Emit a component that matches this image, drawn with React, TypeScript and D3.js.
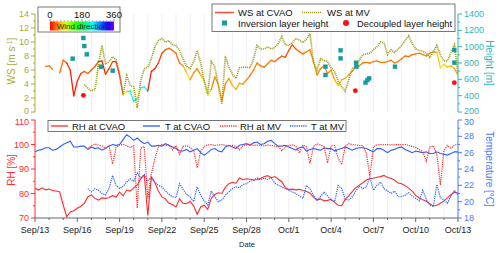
import React from 'react';
import * as d3 from 'd3';

// time axis: days since Sep 13, one value every 6 hours
const step = 0.25;
const tickDays = [0, 3, 6, 9, 12, 15, 18, 21, 24, 27, 30];
const tickLabels = ['Sep/13', 'Sep/16', 'Sep/19', 'Sep/22', 'Sep/25', 'Sep/28', 'Oct/1', 'Oct/4', 'Oct/7', 'Oct/10', 'Oct/13'];

const wsCvao = [
  null, null, null, 6.5, 6.6, 6.1, null, 5.6, 7.4, 7.0, 6.0, 2.3,
  4.4, 5.5, 5.8, 5.5, 6.0, 6.5, 7.2, 7.3, 5.4, 6.2, 7.2, 7.2,
  5.2, 2.5, 2.9, 3.0, 1.5, 2.0, 3.4, 3.6, 3.0, 5.8, 6.2, 7.0,
  8.4, 8.9, 9.1, 8.8, 8.4, 7.0, 6.6, 5.6, 4.6, 5.6, 6.2, 5.3,
  4.5, 2.4, 3.2, 5.0, 4.0, 1.6, 4.0, 4.8, 3.8, 3.2, 4.1, 4.0,
  4.6, 5.2, 6.0, 7.0, 6.6, 6.4, 6.9, 7.4, 7.2, 7.6, 8.0, 7.8,
  8.8, 9.6, 9.0, 8.6, 8.3, 8.6, 8.9, 7.2, 5.3, 6.2, 6.6, 5.5,
  6.0, 4.6, 3.8, 4.6, 4.8, 5.3, 5.8, 6.5, 6.6, 7.0, 7.1, 7.0,
  7.2, 7.3, 7.1, 7.1, 7.2, 7.4, 7.0, 7.2, 7.6, 8.0, 7.9, 8.2,
  8.3, 8.4, 8.2, 8.0, 8.4, 8.6, 8.5, 6.3, 6.8, 6.4, 6.6, 6.2,
  5.3,
];

const windDir = [
  35, 35, 35, 35, 38, 40, 40, 42, 35, 30, 12, 8,
  10, 12, 25, 30, 30, 28, 25, 12, 8, 15, 25, 15,
  8, 20, 75, 125, 230, 245, 70, 235, 240, 10, 8, 12,
  20, 25, 28, 30, 32, 35, 40, 55, 70, 45, 40, 45,
  60, 72, 70, 40, 45, 60, 40, 42, 55, 60, 55, 50,
  45, 40, 38, 38, 38, 38, 38, 38, 35, 32, 28, 25,
  25, 25, 28, 30, 32, 35, 38, 40, 45, 42, 40, 45,
  42, 50, 58, 60, 55, 50, 45, 42, 40, 40, 40, 40,
  40, 40, 38, 38, 38, 40, 40, 38, 38, 36, 36, 36,
  36, 38, 40, 40, 42, 42, 45, 65, 70, 65, 60, 55,
  50,
];

const wsMv = [
  null, null, null, null, null, null, null, null, null, null, null, null,
  null, null, 3.9, 3.4, 3.0, 3.2, 6.8, 9.5, 6.8, 7.2, 7.9, 7.5,
  5.5, 2.4, 5.2, 3.8, 3.6, 0.6, 4.5, 6.2, 6.4, 7.6, 9.3, 10.2,
  10.5, 10.0, 10.2, 9.6, 9.5, 8.8, 7.6, 6.5, 6.2, 7.2, 8.8, 7.0,
  4.4, 2.6, 7.2, 6.5, 3.8, 1.2, 8.0, 6.4, 5.4, 4.8, 6.3, 6.4,
  6.4, 6.3, 7.6, 9.5, 9.0, 9.0, 9.3, 9.0, 9.2, 9.8, 10.8, 9.6,
  9.5, 9.9, 10.5, 10.3, 9.9, 10.4, 11.2, 7.2, 6.0, 7.6, 7.4, 7.2,
  6.3, 5.8, 4.4, 3.6, 3.0, 4.6, 6.2, 6.6, 7.4, 8.2, 8.3, 8.4,
  8.9, 9.3, 10.0, 9.9, 8.2, 8.9, 8.5, 9.0, 9.5, 10.2, 10.9, 9.8,
  9.0, 8.8, 8.7, 8.4, 7.8, 8.6, 9.5, 8.2, 7.3, 7.3, 8.5, 9.6,
  5.6,
];

const inversionDay = [2.67, 3.43, 3.5, 3.67, 4.68, 5.51, 20.6, 20.6, 21.67, 21.67, 22.77, 22.8, 23.44, 23.58, 23.7, 25.53, 29.74, 29.74];
const inversionHeight = [853, 1106, 1008, 906, 755, 706, 755, 653, 955, 857, 804, 755, 560, 592, 612, 755, 960, 804];
const decoupledDay = [3.43, 22.72, 29.74];
const decoupledHeight = [404, 461, 559];

const rhCvao = [
  82.1, 81.4, 82.3, 81.5, 81.8, 81.2, 81.0, 80.6, 75.3, 70.5, 72.5, 73.0,
  74.0, 74.8, 76.0, 78.7, 79.4, 78.0, 77.3, 78.2, 78.0, 78.3, 79.2, 78.5,
  80.6, 79.0, 81.4, 81.0, 82.3, 83.5, 86.0, 87.6, 71.0, 86.8, 84.5, 81.0,
  78.6, 77.8, 76.0, 75.5, 74.5, 77.8, 76.0, 75.8, 76.8, 75.0, 71.5, 74.5,
  75.2, 73.5, 78.0, 79.6, 80.3, 80.0, 82.5, 84.0, 84.6, 84.2, 86.3, 85.6,
  86.0, 85.8, 85.5, 85.7, 86.2, 86.8, 87.3, 86.4, 86.9, 85.8, 84.8, 82.4,
  81.6, 81.8, 81.5, 81.7, 81.2, 80.8, 80.2, 78.5, 77.3, 77.8, 77.0, 77.2,
  77.6, 76.4, 75.2, 75.0, 77.6, 79.0, 80.8, 82.4, 83.4, 84.4, 85.5, 86.0,
  86.2, 86.6, 86.9, 87.4, 86.5, 86.2, 85.4, 84.3, 84.0, 83.2, 82.2, 81.0,
  79.2, 78.2, 77.4, 76.8, 75.8, 74.9, 75.2, 76.0, 77.0, 78.2, 79.5, 80.5,
  80.2,
];

const tCvao = [
  26.1, 26.3, 26.4, 26.6, 26.6, 26.3, 26.4, 26.7, 27.0, 27.2, 27.4, 26.7,
  26.7, 26.8, 26.8, 26.4, 26.7, 26.5, 26.6, 26.3, 26.5, 26.8, 27.0, 26.9,
  27.0, 27.6, 28.2, 27.9, 27.5, 27.8, 27.4, 27.1, 27.3, 26.8, 26.8, 26.9,
  26.8, 27.1, 26.9, 26.7, 26.5, 26.2, 26.2, 26.4, 26.1, 26.3, 26.5, 26.0,
  25.7, 26.0, 26.4, 26.5, 26.2, 26.1, 26.7, 26.9, 26.7, 26.5, 26.9, 27.0,
  27.1, 26.9, 27.2, 27.3, 27.0, 27.1, 27.4, 27.5, 27.1, 26.8, 26.8, 26.9,
  26.7, 26.5, 26.3, 26.6, 26.7, 26.2, 26.4, 26.5, 26.4, 26.3, 26.6, 26.5,
  26.5, 26.2, 26.4, 26.5, 26.7, 26.5, 26.3, 26.5, 26.6, 26.6, 26.5, 26.3,
  26.1, 26.5, 26.5, 26.3, 26.0, 26.3, 26.4, 26.6, 26.7, 26.4, 26.2, 26.0,
  26.2, 26.1, 26.0, 26.1, 25.9, 25.9, 26.1, 25.9, 25.8, 25.7, 25.9, 26.1,
  26.1,
];

const rhMv = [
  null, null, null, null, null, null, null, null, null, null, null, null,
  null, null, null, 98.4, 99.5, 100.2, 99.8, 99.4, 98.5, 99.6, 92.0, 98.8,
  99.8, 100.0, 99.5, 98.8, 99.5, 74.0, 98.5, 99.2, 78.0, 88.0, 94.0, 99.0,
  100.0, 99.6, 99.8, 97.8, 99.6, 96.0, 99.2, 99.5, 98.8, 97.5, 90.5, 97.2,
  99.2, 99.8, 100.0, 99.6, 99.8, 100.0, 99.7, 99.4, 99.6, 99.2, 97.8, 99.5,
  99.8, 100.2, 99.6, 99.8, 99.7, 99.4, 99.8, 99.6, 99.4, 99.2, 97.4, 99.0,
  99.6, 99.8, 99.4, 96.5, 99.8, 99.0, 92.3, 99.2, 100.3, 99.8, 99.2, 92.5,
  99.4, 99.6, 94.5, 91.8, 99.3, 100.3, 100.0, 99.8, 99.6, 99.5, 96.5, 87.0,
  99.0, 99.8, 100.0, 99.9, 100.0, 99.8, 99.9, 100.0, 99.9, 100.0, 99.6, 99.2,
  98.8, 98.0, 97.0, 93.2, 99.0, 99.4, 96.0, 83.5, 97.5, 99.6, 98.5, 99.8,
  100.2,
];

const tMv = [
  null, null, null, null, null, null, null, null, null, null, null, null,
  null, null, null, 21.6, 21.2, 21.6, 21.4, 21.0, 20.8, 21.6, 23.2, 22.0,
  21.6, 21.9, 22.4, 22.8, 22.5, 23.5, 22.9, 23.3, 22.6, 22.9, 22.4, 22.0,
  21.8, 21.3, 20.9, 20.6, 20.5, 22.2, 21.5, 20.9, 20.6, 20.0, 21.8, 20.8,
  20.1, 19.6, 21.3, 20.6, 20.0, 20.2, 20.8, 21.2, 21.6, 21.8, 21.7, 22.1,
  22.2, 22.5, 22.6, 22.9, 22.7, 22.9, 22.7, 22.9, 22.3, 22.0, 21.8, 21.6,
  21.4, 21.2, 21.0, 20.7, 20.4, 22.0, 21.6, 20.8, 20.2, 20.6, 21.2, 20.7,
  20.2, 20.0, 22.0, 21.6, 20.3, 20.2, 20.6, 21.3, 21.9, 21.6, 21.8, 23.0,
  21.4, 22.0, 22.4, 21.6, 21.3, 21.0, 21.3, 20.6, 20.6, 20.8, 21.1, 20.7,
  20.4, 20.1, 21.4, 20.3, 19.6, 19.4, 22.1, 20.5, 20.2, 19.8, 20.7, 21.4,
  20.8,
];

const OLIVE = '#abab35';
const OLIVE_LINE = '#a0a01e';
const TEAL = '#33b5b5';
const TEAL_MARK = '#169c9c';
const RED = '#ff2b2b';
const BLUE = '#2a5cff';
const BLUE_AX = '#4a78ff';
const GRID = '#e2e2f2';
const FONT = '"Liberation Sans", Arial, sans-serif';

const x = d3.scaleLinear().domain([0, 30]).range([35, 458]);
const yWs = d3.scaleLinear().domain([0, 14]).range([112, 14]);
const yHt = d3.scaleLinear().domain([200, 1400]).range([112, 14]);
const yRh = d3.scaleLinear().domain([70, 110]).range([218, 120]);
const yT = d3.scaleLinear().domain([18, 30]).range([218, 120]);

const wdColor = (d: number) => d3.hsl(d * 0.75, 1, 0.5).toString();

function pathOf(vals: (number | null)[], y: d3.ScaleLinear<number, number>) {
  return d3.line<number | null>()
    .defined(v => v != null)
    .x((_, i) => x(i * step))
    .y(v => y(v as number))(vals) || '';
}

// shiftLow / shiftHigh nudge the end labels apart where the two panels meet
function YAxis({ scale, at, side, major, minor, color, shiftLow = 0, shiftHigh = 0 }:
  { scale: d3.ScaleLinear<number, number>, at: number, side: 'left' | 'right', major: number, minor: number, color: string, shiftLow?: number, shiftHigh?: number }) {
  const [lo, hi] = scale.domain();
  const majors = d3.range(lo, hi + 1e-6, major);
  const minors = d3.range(lo, hi + 1e-6, minor).filter(v => Math.abs(v / major - Math.round(v / major)) > 1e-6);
  const dir = side === 'left' ? -1 : 1;
  return (
    <g>
      <line x1={at} x2={at} y1={scale.range()[0]} y2={scale.range()[1]} stroke={color} strokeWidth={1} />
      {majors.map((v, i) => {
        const off = i === 0 ? shiftLow : i === majors.length - 1 ? shiftHigh : 0;
        return (
          <g key={'M' + v}>
            <line x1={at} x2={at + dir * 4} y1={scale(v)} y2={scale(v)} stroke={color} />
            <text x={at + dir * 6} y={scale(v) + off} dy="0.35em" textAnchor={side === 'left' ? 'end' : 'start'}
              fill={color} fontSize={9} fontFamily={FONT}>{v}</text>
          </g>
        );
      })}
      {minors.map(v => (
        <line key={'m' + v} x1={at} x2={at + dir * 2} y1={scale(v)} y2={scale(v)} stroke={color} />
      ))}
    </g>
  );
}

export default function App() {
  const gridDays = d3.range(1, 30);
  const wsSegments: { d: string, c: string }[] = [];
  for (let i = 0; i < wsCvao.length - 1; i++) {
    const a = wsCvao[i], b = wsCvao[i + 1];
    if (a == null || b == null) continue;
    wsSegments.push({
      d: `M${x(i * step)},${yWs(a)}L${x((i + 1) * step)},${yWs(b)}`,
      c: wdColor(windDir[i + 1]),
    });
  }
  const cbX0 = 50, cbX1 = 114;
  const cbScale = d3.scaleLinear().domain([0, 360]).range([cbX0, cbX1]);

  return (
    <svg width={500} height={253} style={{ position: 'absolute', left: 0, top: 0, background: '#fff' }}>
      <defs>
        <clipPath id="clipTop"><rect x={35} y={12} width={423} height={102} /></clipPath>
        <clipPath id="clipBot"><rect x={35} y={120} width={423} height={98} /></clipPath>
        <linearGradient id="wdGrad" x1="0" x2="1" y1="0" y2="0">
          {d3.range(0, 361, 30).map(v => (
            <stop key={v} offset={v / 360} stopColor={wdColor(v)} />
          ))}
        </linearGradient>
      </defs>

      {/* grid */}
      {gridDays.map(d => (
        <g key={d}>
          <line x1={x(d)} x2={x(d)} y1={14} y2={112} stroke={GRID} strokeWidth={0.6} />
          <line x1={x(d)} x2={x(d)} y1={120} y2={218} stroke={GRID} strokeWidth={0.6} />
        </g>
      ))}

      {/* top panel */}
      <g clipPath="url(#clipTop)">
        {wsSegments.map((s, i) => (
          <path key={i} d={s.d} stroke={s.c} strokeWidth={1.3} fill="none" strokeLinecap="round" />
        ))}
        <path d={pathOf(wsMv, yWs)} stroke={OLIVE_LINE} strokeWidth={1.7} fill="none" strokeDasharray="1.1 0.9" />
        {inversionDay.map((t, i) => (
          <rect key={i} x={x(t) - 2.2} y={yHt(inversionHeight[i]) - 2.2} width={4.4} height={4.4} fill={TEAL_MARK} />
        ))}
        {decoupledDay.map((t, i) => (
          <circle key={i} cx={x(t)} cy={yHt(decoupledHeight[i])} r={2.4} fill="#ff1010" />
        ))}
      </g>
      <YAxis scale={yWs} at={35} side="left" major={2} minor={1} color={OLIVE} shiftLow={-1.5} />
      <YAxis scale={yHt} at={458} side="right" major={200} minor={100} color={TEAL} shiftLow={-1.5} />

      {/* bottom panel */}
      <g clipPath="url(#clipBot)">
        <path d={pathOf(rhCvao, yRh)} stroke={RED} strokeWidth={1.1} fill="none" />
        <path d={pathOf(tCvao, yT)} stroke={BLUE} strokeWidth={1.1} fill="none" />
        <path d={pathOf(rhMv, yRh)} stroke={RED} strokeWidth={1.2} fill="none" strokeDasharray="1.2 1" />
        <path d={pathOf(tMv, yT)} stroke={BLUE} strokeWidth={1.2} fill="none" strokeDasharray="1.2 1" />
      </g>
      <YAxis scale={yRh} at={35} side="left" major={10} minor={5} color={RED} shiftHigh={1.5} />
      <YAxis scale={yT} at={458} side="right" major={2} minor={1} color={BLUE_AX} shiftHigh={1.5} />

      {/* x axis */}
      <line x1={35} x2={458} y1={218} y2={218} stroke="#666" />
      {d3.range(0, 31).map(d => (
        <line key={d} x1={x(d)} x2={x(d)} y1={218} y2={218 + (d % 3 === 0 ? 4 : 2)} stroke="#666" />
      ))}
      {tickDays.map((d, i) => (
        <text key={d} x={x(d)} y={233} textAnchor="middle" fontSize={9} fontFamily={FONT} fill="#222">{tickLabels[i]}</text>
      ))}
      <text x={247} y={247} textAnchor="middle" fontSize={7.5} fontFamily={FONT} fill="#222">Date</text>

      {/* axis titles */}
      <text transform="translate(15,61) rotate(-90)" textAnchor="middle" fontSize={10} fontFamily={FONT} fill={OLIVE}>
        WS [m s<tspan dy={-3} fontSize={7}>-1</tspan><tspan dy={3}>]</tspan>
      </text>
      <text transform="translate(486,63) rotate(90)" textAnchor="middle" fontSize={10} fontFamily={FONT} fill={TEAL}>Height [m]</text>
      <text transform="translate(15,170) rotate(-90)" textAnchor="middle" fontSize={10} fontFamily={FONT} fill={RED}>RH [%]</text>
      <text transform="translate(486,169) rotate(90)" textAnchor="middle" fontSize={10} fontFamily={FONT} fill={BLUE_AX}>Temperature [°C]</text>

      {/* wind direction colour bar */}
      <rect x={38} y={7} width={82} height={25} fill="#fff" stroke="#555" strokeWidth={0.8} />
      <rect x={cbX0} y={21.5} width={cbX1 - cbX0} height={9} fill="url(#wdGrad)" />
      {d3.range(0, 361, 20).map(v => (
        <line key={v} x1={cbScale(v)} x2={cbScale(v)} y1={21.5} y2={v % 180 === 0 ? 19 : 20.3} stroke="#444" strokeWidth={0.6} />
      ))}
      {[0, 180, 360].map(v => (
        <text key={v} x={cbScale(v)} y={17.5} textAnchor="middle" fontSize={9.5} fontFamily={FONT} fill="#111">{v}</text>
      ))}
      <text x={(cbX0 + cbX1) / 2} y={26} dy="0.35em" textAnchor="middle" fontSize={8} fontFamily={FONT} fill="#222">Wind direction</text>

      {/* top legend */}
      <rect x={212} y={4} width={243} height={27.5} fill="#fff" stroke="#555" strokeWidth={0.8} />
      <line x1={215} x2={234} y1={12.5} y2={12.5} stroke="#ff4a3a" strokeWidth={1.5} />
      <text x={238} y={12.5} dy="0.35em" fontSize={9.5} fontFamily={FONT} fill="#111">WS at CVAO</text>
      <line x1={302} x2={322} y1={12.5} y2={12.5} stroke={OLIVE_LINE} strokeWidth={1.6} strokeDasharray="1.1 0.9" />
      <text x={327} y={12.5} dy="0.35em" fontSize={9.5} fontFamily={FONT} fill="#111">WS at MV</text>
      <rect x={222} y={20.5} width={5} height={5} fill={TEAL_MARK} />
      <text x={238} y={23.3} dy="0.35em" fontSize={9.5} fontFamily={FONT} fill="#111">Inversion layer height</text>
      <circle cx={346} cy={23} r={3} fill="#ff1010" />
      <text x={357} y={23.3} dy="0.35em" fontSize={9.3} fontFamily={FONT} fill="#111">Decoupled layer height</text>

      {/* bottom legend */}
      <rect x={48} y={120.5} width={298} height={11} fill="#fff" stroke="#555" strokeWidth={0.8} />
      <line x1={51} x2={68} y1={126} y2={126} stroke={RED} strokeWidth={1.3} />
      <text x={72} y={126.3} dy="0.35em" fontSize={9.5} fontFamily={FONT} fill="#111">RH at CVAO</text>
      <line x1={143} x2={160} y1={126} y2={126} stroke={BLUE} strokeWidth={1.3} />
      <text x={165} y={126.3} dy="0.35em" fontSize={9.5} fontFamily={FONT} fill="#111">T at CVAO</text>
      <line x1={220} x2={237} y1={126} y2={126} stroke={RED} strokeWidth={1.3} strokeDasharray="1.2 1" />
      <text x={240} y={126.3} dy="0.35em" fontSize={9.5} fontFamily={FONT} fill="#111">RH at MV</text>
      <line x1={290} x2={307} y1={126} y2={126} stroke={BLUE} strokeWidth={1.3} strokeDasharray="1.2 1" />
      <text x={311} y={126.3} dy="0.35em" fontSize={9.5} fontFamily={FONT} fill="#111">T at MV</text>
    </svg>
  );
}
